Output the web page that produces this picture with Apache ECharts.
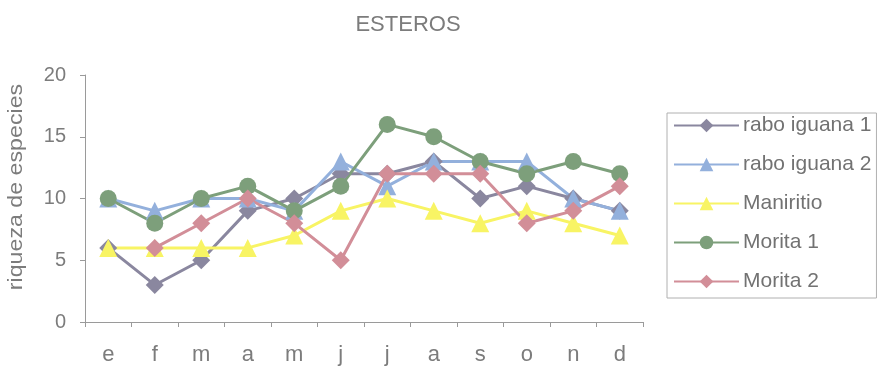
<!DOCTYPE html>
<html>
<head>
<meta charset="utf-8">
<script src="https://cdn.jsdelivr.net/npm/echarts@6/dist/echarts.min.js"></script>
<style>
  html, body { margin: 0; padding: 0; background: #fff; }
  #chart { width: 882px; height: 369px; }
</style>
</head>
<body>
<div id="chart"></div>
<script>
// Monthly species richness per site
const months = ['e', 'f', 'm', 'a', 'm', 'j', 'j', 'a', 's', 'o', 'n', 'd'];
const raboIguana1 = [6, 3, 5, 9, 10, 12, 12, 13, 10, 11, 10, 9];
const raboIguana2 = [10, 9, 10, 10, 9, 13, 11, 13, 13, 13, 10, 9];
const maniritio = [6, 6, 6, 6, 7, 9, 10, 9, 8, 9, 8, 7];
const morita1 = [10, 8, 10, 11, 9, 11, 16, 15, 13, 12, 13, 12];
const morita2 = ['-', 6, 8, 10, 8, 5, 12, 12, 12, 8, 9, 11];
const yTicks = { min: 0, max: 20, interval: 5 };

const textGray = '#7c7c7c';
const axisGray = '#9a9a9a';
const font = 'Liberation Sans, Arial, sans-serif';

function lineSeries(name, data, color, symbol, size) {
  return {
    name: name,
    type: 'line',
    data: data,
    symbol: symbol,
    symbolSize: size,
    connectNulls: false,
    lineStyle: { color: color, width: 3 },
    itemStyle: { color: color },
    emphasis: { disabled: true }
  };
}

const chart = echarts.init(document.getElementById('chart'), null, { renderer: 'canvas' });
chart.setOption({
  animation: false,
  backgroundColor: '#ffffff',
  textStyle: { fontFamily: font },
  title: {
    text: 'ESTEROS',
    left: 403,
    top: 9,
    textAlign: 'center',
    textStyle: { fontSize: 22, fontWeight: 'normal', color: textGray, fontFamily: font }
  },
  graphic: [{
    // y-axis title, drawn separately so it can sit above the plot centre
    type: 'text',
    x: 16,
    y: 187,
    rotation: Math.PI / 2,
    scaleX: 1.16,
    style: {
      text: 'riqueza de especies',
      font: '20px ' + font,
      fill: textGray,
      textAlign: 'center',
      textVerticalAlign: 'middle'
    }
  }],
  grid: { left: 85, right: 239, top: 75, bottom: 47 },
  legend: {
    orient: 'vertical',
    left: 667,
    top: 113,
    width: 210,
    padding: [2, 5, 6, 6],
    itemWidth: 65,
    itemHeight: 17,
    itemGap: 18,
    borderColor: '#b0b0b0',
    borderWidth: 1,
    lineStyle: { width: 2 },
    textStyle: { fontSize: 21, color: '#727272', fontFamily: font, padding: [0, 0, 0, -1] },
    data: ['rabo iguana 1', 'rabo iguana 2', 'Maniritio', 'Morita 1', 'Morita 2']
  },
  xAxis: {
    type: 'category',
    data: months,
    boundaryGap: true,
    axisLine: { lineStyle: { color: axisGray, width: 1 } },
    axisTick: { show: true, length: 5, alignWithLabel: false, lineStyle: { color: axisGray } },
    axisLabel: { fontSize: 22, color: textGray, margin: 22 },
    splitLine: { show: false }
  },
  yAxis: {
    type: 'value',
    min: yTicks.min,
    max: yTicks.max,
    interval: yTicks.interval,
    axisLine: { show: true, lineStyle: { color: axisGray, width: 1 } },
    axisTick: { show: true, length: 5, lineStyle: { color: axisGray } },
    axisLabel: { fontSize: 20, color: textGray, margin: 19 },
    splitLine: { show: false }
  },
  series: [
    lineSeries('rabo iguana 1', raboIguana1, '#8a879f', 'diamond', 18),
    lineSeries('rabo iguana 2', raboIguana2, '#93b0dc', 'triangle', 18),
    lineSeries('Maniritio', maniritio, '#f8f464', 'triangle', 18),
    lineSeries('Morita 1', morita1, '#7d9f7b', 'circle', 17),
    lineSeries('Morita 2', morita2, '#d28e98', 'diamond', 18)
  ]
});
</script>
</body>
</html>
